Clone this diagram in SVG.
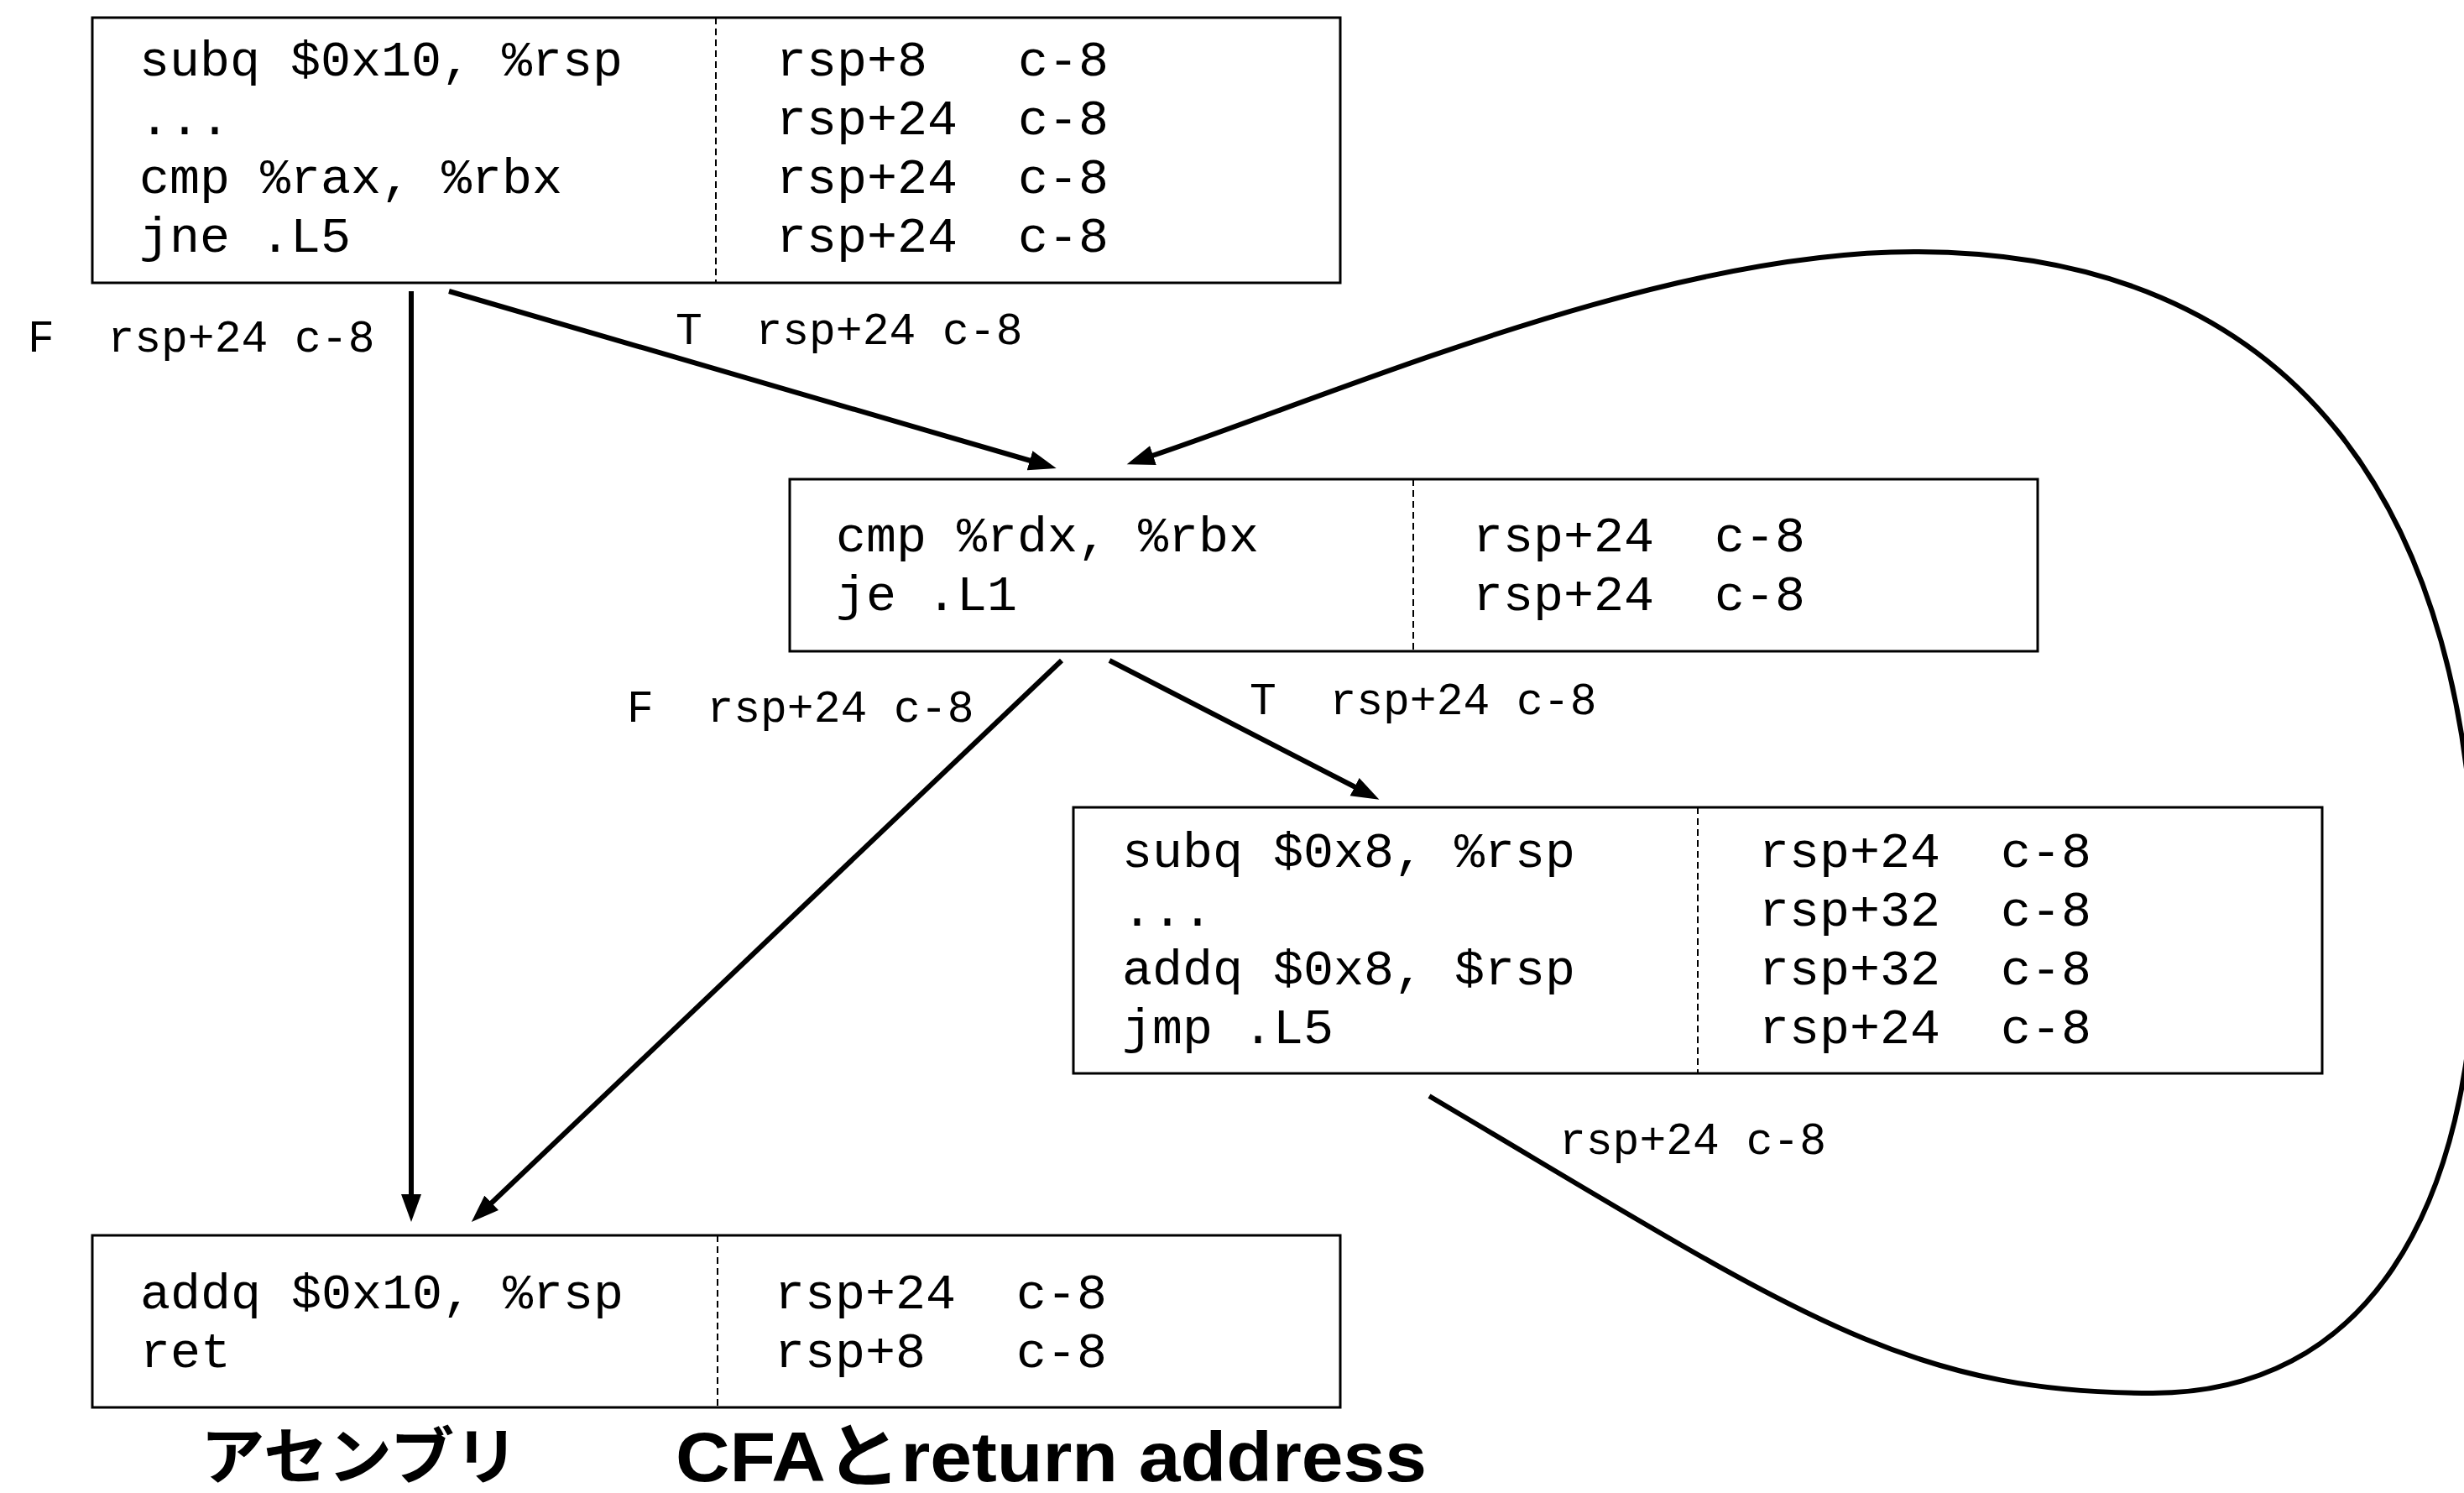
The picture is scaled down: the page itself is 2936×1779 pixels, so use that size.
<svg xmlns="http://www.w3.org/2000/svg" width="2936" height="1779" viewBox="0 0 2936 1779">
<style>
.box{fill:#fff;stroke:#000;stroke-width:3}
.div{stroke:#000;stroke-width:2;stroke-dasharray:8 5}
.code{font-family:"Liberation Mono","Courier New",monospace;font-size:60px;fill:#000;white-space:pre}
.lbl{font-family:"Liberation Mono","Courier New",monospace;font-size:53px;fill:#000;white-space:pre}
.edge{fill:none;stroke:#000;stroke-width:6}
.title{font-family:"Liberation Sans","Noto Sans CJK JP",sans-serif;font-weight:bold;font-size:84px;fill:#000}
.titlejp{font-family:"Noto Sans CJK JP",sans-serif;font-weight:bold;font-size:74px;fill:#000}
</style>
<defs>
<marker id="arr" markerUnits="userSpaceOnUse" viewBox="0 -13 34 26" markerWidth="34" markerHeight="26" refX="1" refY="0" orient="auto">
<path d="M0,-12 L33,0 L0,12 z" fill="#000"/>
</marker>
</defs>
<rect width="2936" height="1779" fill="#fff"/>

<g id="node-entry">
<rect class="box" x="110" y="21" width="1487" height="316"/>
<line class="div" x1="853" y1="21" x2="853" y2="337"/>
<text class="code" x="166" y="90">subq $0x10, %rsp</text>
<text class="code" x="166" y="160">...</text>
<text class="code" x="166" y="230">cmp %rax, %rbx</text>
<text class="code" x="166" y="300">jne .L5</text>
<text class="code" x="925" y="90">rsp+8   c-8</text>
<text class="code" x="925" y="160">rsp+24  c-8</text>
<text class="code" x="925" y="230">rsp+24  c-8</text>
<text class="code" x="925" y="300">rsp+24  c-8</text>
</g>

<g id="node-L5">
<rect class="box" x="941" y="571" width="1487" height="205"/>
<line class="div" x1="1684" y1="571" x2="1684" y2="776"/>
<text class="code" x="996" y="657">cmp %rdx, %rbx</text>
<text class="code" x="996" y="727">je .L1</text>
<text class="code" x="1755" y="657">rsp+24  c-8</text>
<text class="code" x="1755" y="727">rsp+24  c-8</text>
</g>

<g id="node-loop">
<rect class="box" x="1279" y="962" width="1488" height="317"/>
<line class="div" x1="2023" y1="962" x2="2023" y2="1279"/>
<text class="code" x="1337" y="1033">subq $0x8, %rsp</text>
<text class="code" x="1337" y="1103">...</text>
<text class="code" x="1337" y="1173">addq $0x8, $rsp</text>
<text class="code" x="1337" y="1243">jmp .L5</text>
<text class="code" x="2096" y="1033">rsp+24  c-8</text>
<text class="code" x="2096" y="1103">rsp+32  c-8</text>
<text class="code" x="2096" y="1173">rsp+32  c-8</text>
<text class="code" x="2096" y="1243">rsp+24  c-8</text>
</g>

<g id="node-L1">
<rect class="box" x="110" y="1472" width="1487" height="205"/>
<line class="div" x1="855" y1="1472" x2="855" y2="1677"/>
<text class="code" x="167" y="1559">addq $0x10, %rsp</text>
<text class="code" x="167" y="1629">ret</text>
<text class="code" x="923" y="1559">rsp+24  c-8</text>
<text class="code" x="923" y="1629">rsp+8   c-8</text>
</g>

<g id="connectors">
<line class="edge" x1="490" y1="347" x2="490" y2="1424" marker-end="url(#arr)"/>
<line class="edge" x1="535" y1="347" x2="1228" y2="549" marker-end="url(#arr)"/>
<line class="edge" x1="1265" y1="787" x2="585" y2="1434" marker-end="url(#arr)"/>
<line class="edge" x1="1322" y1="787" x2="1615" y2="938" marker-end="url(#arr)"/>
<path class="edge" d="M1703,1306 C2133,1560 2265,1660 2565,1660 C2815,1660 2950,1450 2950,1100 C2950,600 2731,300 2281,300 C1981,300 1607,464 1373,543" marker-end="url(#arr)"/>
</g>

<g id="edge-labels">
<text class="lbl" x="33" y="419">F  rsp+24 c-8</text>
<text class="lbl" x="805" y="410">T  rsp+24 c-8</text>
<text class="lbl" x="747" y="860">F  rsp+24 c-8</text>
<text class="lbl" x="1489" y="851">T  rsp+24 c-8</text>
<text class="lbl" x="1858" y="1375">rsp+24 c-8</text>
</g>

<g id="titles">
<text class="titlejp" x="239" y="1762" textLength="379" lengthAdjust="spacingAndGlyphs">アセンブリ</text>
<text class="title" x="805" y="1765" textLength="895" lengthAdjust="spacingAndGlyphs">CFAとreturn address</text>
</g>
</svg>
